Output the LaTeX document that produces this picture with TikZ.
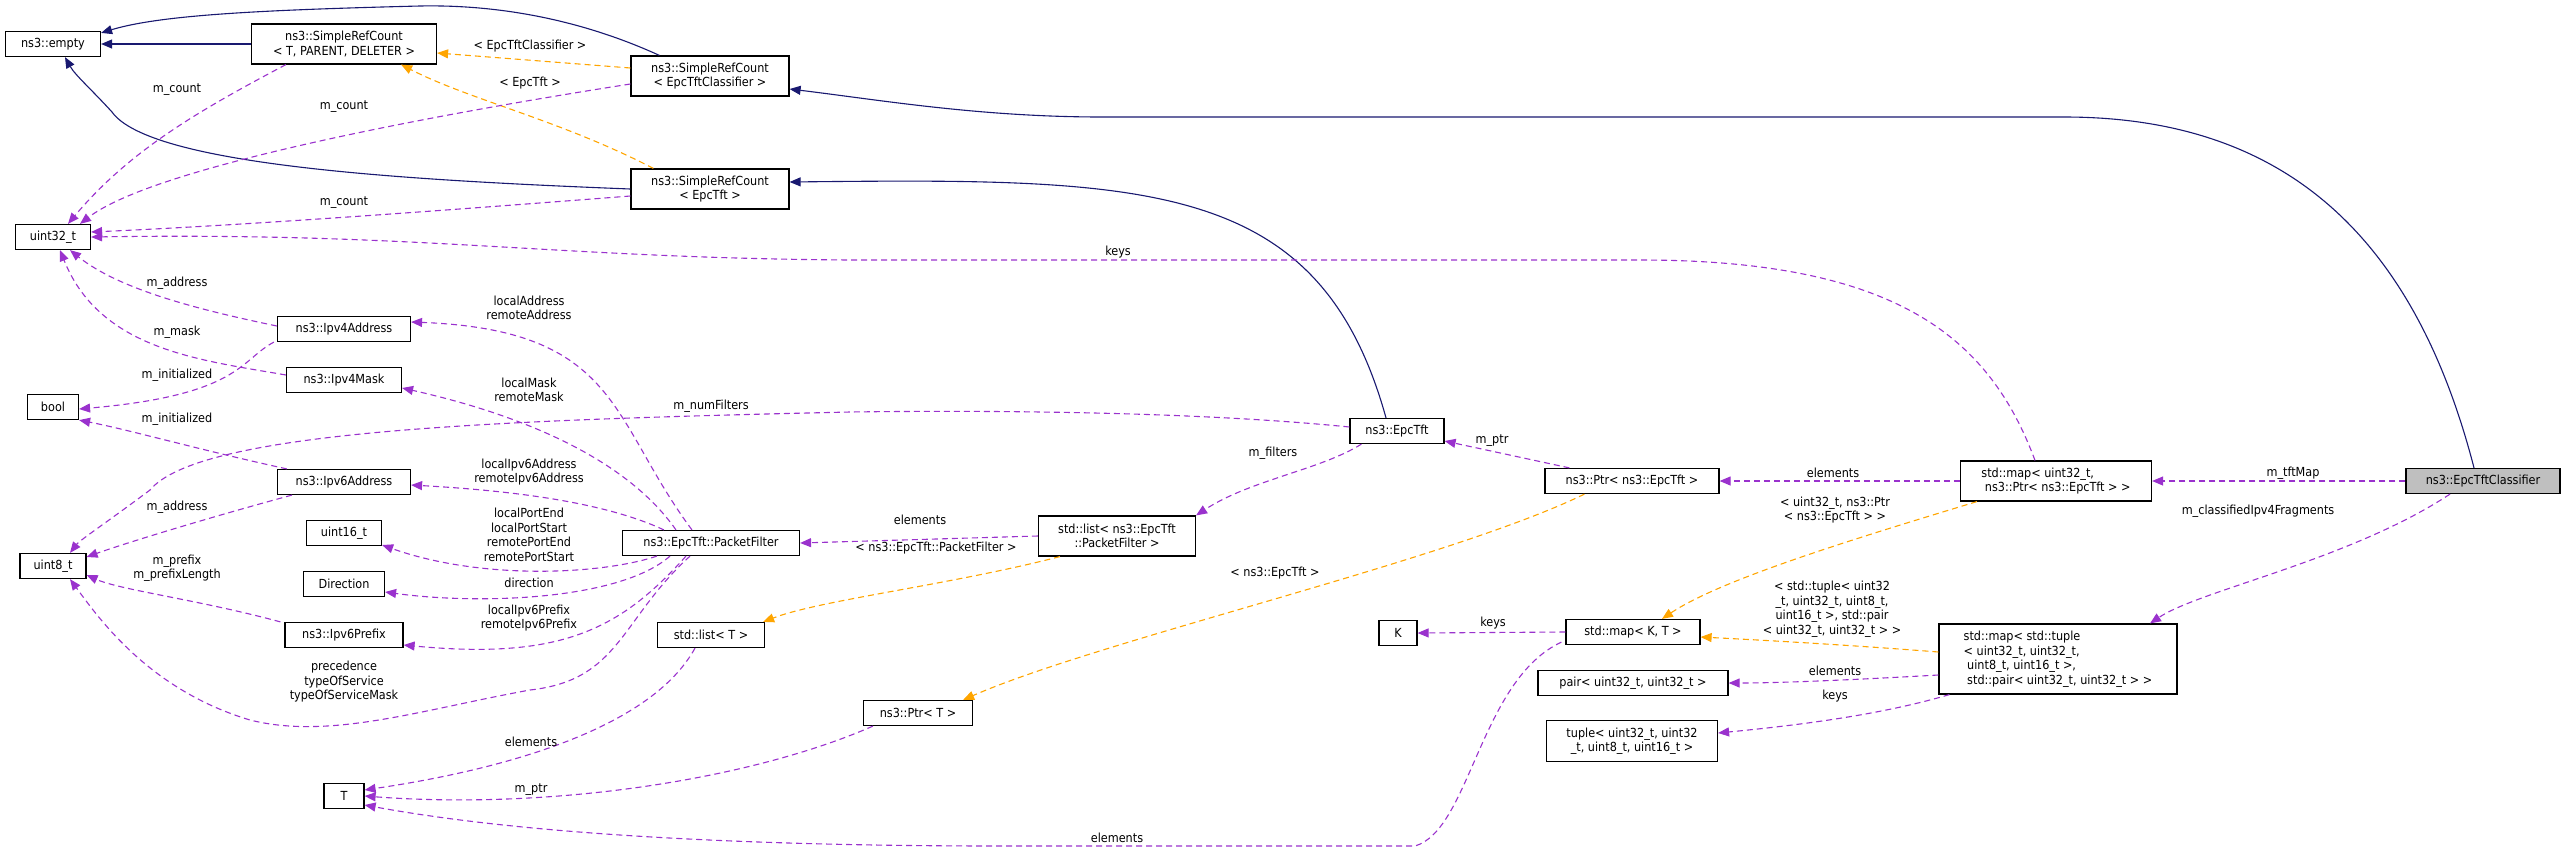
\documentclass[tikz,border=0pt]{standalone}
\usepackage{fontspec}
\setmainfont{DejaVu Sans Condensed}
\usetikzlibrary{arrows.meta,calc}
\definecolor{navy}{HTML}{191970}
\definecolor{purp}{HTML}{9A32CD}
\definecolor{orng}{HTML}{FFA500}
\begin{document}
\begin{tikzpicture}[x=1pt,y=-1pt,
  box/.style={draw=black,line width=1.2pt,fill=white,inner sep=0pt,font=\fontsize{12.5}{14.5}\selectfont,align=center},
  lbl/.style={font=\fontsize{12.5}{14.5}\selectfont,align=center,inner sep=0pt},
  tip/.style={-{Triangle[length=11pt,width=9pt]}},
  inh/.style={tip,draw=navy,line width=1.1pt},
  use/.style={tip,draw=purp,line width=1.1pt,dash pattern=on 6pt off 4pt},
  tpl/.style={tip,draw=orng,line width=1.1pt,dash pattern=on 6pt off 4pt}]
\useasboundingbox (0,0) rectangle (2565,852);
% nodes
\node[box,minimum width=95pt,minimum height=25pt] (empty) at (53,44) {ns3::empty};
\node[box,minimum width=185pt,minimum height=40pt] (srcT) at (344,44) {ns3::SimpleRefCount\\< T, PARENT, DELETER >};
\node[box,minimum width=158pt,minimum height=40pt] (srcC) at (710,76) {ns3::SimpleRefCount\\< EpcTftClassifier >};
\node[box,minimum width=158pt,minimum height=40pt] (srcE) at (710,189) {ns3::SimpleRefCount\\< EpcTft >};
\node[box,minimum width=75pt,minimum height=25pt] (u32) at (53,237) {uint32\_t};
\node[box,minimum width=133pt,minimum height=25pt] (ip4a) at (344,329) {ns3::Ipv4Address};
\node[box,minimum width=115pt,minimum height=25pt] (ip4m) at (344,380) {ns3::Ipv4Mask};
\node[box,minimum width=51pt,minimum height=25pt] (bool) at (53,407) {bool};
\node[box,minimum width=133pt,minimum height=25pt] (ip6a) at (344,482) {ns3::Ipv6Address};
\node[box,minimum width=66pt,minimum height=25pt] (u8) at (53,566) {uint8\_t};
\node[box,minimum width=75pt,minimum height=25pt] (u16) at (344,533) {uint16\_t};
\node[box,minimum width=81pt,minimum height=25pt] (dir) at (344,584) {Direction};
\node[box,minimum width=118pt,minimum height=25pt] (ip6p) at (344,635) {ns3::Ipv6Prefix};
\node[box,minimum width=177pt,minimum height=25pt] (pf) at (711,543) {ns3::EpcTft::PacketFilter};
\node[box,minimum width=107pt,minimum height=25pt] (listT) at (711,635) {std::list< T >};
\node[box,minimum width=40pt,minimum height=25pt] (T) at (344,796) {T};
\node[box,minimum width=109pt,minimum height=25pt] (ptrT) at (918,713) {ns3::Ptr< T >};
\node[box,minimum width=94pt,minimum height=25pt] (epctft) at (1397,431) {ns3::EpcTft};
\node[box,minimum width=157pt,minimum height=40pt] (listPF) at (1117,536) {std::list< ns3::EpcTft\\::PacketFilter >};
\node[box,minimum width=174pt,minimum height=25pt] (ptrE) at (1632,481) {ns3::Ptr< ns3::EpcTft >};
\node[box,minimum width=191pt,minimum height=40pt,align=left] (mapP) at (2056,481) {std::map< uint32\_t,\\\ ns3::Ptr< ns3::EpcTft > >};
\node[box,minimum width=154pt,minimum height=25pt,fill={rgb,255:red,191;green,191;blue,191}] (cls) at (2483,481) {ns3::EpcTftClassifier};
\node[box,minimum width=38pt,minimum height=25pt] (K) at (1398,633) {K};
\node[box,minimum width=134pt,minimum height=25pt] (mapKT) at (1633,632) {std::map< K, T >};
\node[box,minimum width=190pt,minimum height=25pt] (pair) at (1633,683) {pair< uint32\_t, uint32\_t >};
\node[box,minimum width=171pt,minimum height=41pt] (tuple) at (1632,741) {tuple< uint32\_t, uint32\\\_t, uint8\_t, uint16\_t >};
\node[box,minimum width=238pt,minimum height=70pt,align=left] (mapTu) at (2058,659) {std::map< std::tuple\\< uint32\_t, uint32\_t,\\\ uint8\_t, uint16\_t >,\\\ std::pair< uint32\_t, uint32\_t > >};
% inheritance
\draw[inh] (srcT.west) -- (empty.east);
\draw[inh] ($(srcC.north west)+(29,0)$) .. controls (560,10) and (470,5) .. (420,6) .. controls (260,10) and (160,15) .. ($(empty.north east)+(0,2)$);
\draw[inh] (srcE.west) .. controls (400,180) and (150,165) .. (112,112) .. controls (92,90) and (75,75) .. ($(empty.south)+(12,0)$);
\draw[inh] ($(cls.north)+(-9,0)$) .. controls (2410,220) and (2270,117) .. (2064,117) -- (1102,117) .. controls (980,117) and (880,100) .. ($(srcC.east)+(0,13)$);
\draw[inh] ($(epctft.north)+(-11,0)$) .. controls (1320,180) and (1150,178) .. ($(srcE.east)+(0,-7)$);
% template instances
\draw[tpl] ($(srcC.west)+(0,-8)$) -- ($(srcT.east)+(0,9)$);
\node[lbl] (l1) at (530,46) {< EpcTftClassifier >};
\draw[tpl] ($(srcE.north west)+(23,0)$) .. controls (560,120) and (470,100) .. ($(srcT.south east)+(-36,0)$);
\node[lbl] (l2) at (530,83) {< EpcTft >};
\draw[tpl] ($(listPF.south west)+(22,0)$) .. controls (950,585) and (820,600) .. ($(listT.north east)+(-2,0)$);
\node[lbl] (l3) at (936,548) {< ns3::EpcTft::PacketFilter >};
\draw[tpl] ($(ptrE.south west)+(40,0)$) .. controls (1450,560) and (1100,640) .. ($(ptrT.north east)+(-10,0)$);
\node[lbl] (l4) at (1275,573) {< ns3::EpcTft >};
\draw[tpl] ($(mapP.south west)+(17,0)$) .. controls (1850,540) and (1720,580) .. ($(mapKT.north)+(29,0)$);
\node[lbl] (l5) at (1835,510) {< uint32\_t, ns3::Ptr\\< ns3::EpcTft > >};
\draw[tpl] ($(mapTu.west)+(0,-7)$) .. controls (1850,645) and (1760,640) .. ($(mapKT.east)+(0,5)$);
\node[lbl] (l6) at (1832,609) {< std::tuple< uint32\\\_t, uint32\_t, uint8\_t,\\uint16\_t >, std::pair\\< uint32\_t, uint32\_t > >};
% usage
\draw[use] ($(srcT.south west)+(35,0)$) .. controls (200,110) and (130,150) .. ($(u32.north)+(15,0)$);
\node[lbl] (m1) at (177,90) {m\_count};
\draw[use] ($(srcC.west)+(0,8)$) .. controls (400,120) and (150,170) .. ($(u32.north)+(27,0)$);
\node[lbl] (m2) at (344,107) {m\_count};
\draw[use] ($(srcE.west)+(0,7)$) .. controls (450,210) and (250,225) .. ($(u32.east)+(0,-5)$);
\node[lbl] (m3) at (344,203) {m\_count};
\draw[use] ($(mapP.north)+(-21,0)$) .. controls (1990,340) and (1900,260) .. (1640,260) -- (850,260) .. controls (550,258) and (420,232) .. (u32.east);
\node[lbl] (m4) at (1118,252) {keys};
\draw[use] ($(ip4a.west)+(0,-3)$) .. controls (200,310) and (120,290) .. ($(u32.south)+(17,0)$);
\node[lbl] (m5) at (177,283) {m\_address};
\draw[use] ($(ip4m.west)+(0,-5)$) .. controls (200,360) and (100,350) .. ($(u32.south)+(7,0)$);
\node[lbl] (m6) at (177,332) {m\_mask};
\draw[use] ($(ip4a.south west)+(-3,0)$) .. controls (240,360) and (240,395) .. ($(bool.east)+(0,2)$);
\node[lbl] (m7) at (177,375) {m\_initialized};
\draw[use] ($(ip6a.north west)+(10,0)$) .. controls (200,450) and (130,430) .. (bool.south east);
\node[lbl] (m8) at (177,419) {m\_initialized};
\draw[use] ($(epctft.west)+(0,-4)$) .. controls (1200,412) and (1000,410) .. (850,412) .. controls (500,420) and (200,430) .. (150,490) .. controls (110,520) and (80,540) .. ($(u8.north)+(17,0)$);
\node[lbl] (m9) at (711,406) {m\_numFilters};
\draw[use] ($(ip6a.south west)+(15,0)$) .. controls (200,520) and (120,545) .. ($(u8.east)+(0,-9)$);
\node[lbl] (m10) at (177,507) {m\_address};
\draw[use] ($(ip6p.north west)+(-4,0)$) .. controls (200,600) and (120,590) .. ($(u8.east)+(0,9)$);
\node[lbl] (m11) at (177,568) {m\_prefix\\m\_prefixLength};
\draw[use] ($(pf.south)+(-21,0)$) .. controls (620,620) and (620,680) .. (530,690) .. controls (420,710) and (330,740) .. (250,720) .. controls (150,690) and (100,620) .. ($(u8.south)+(17,0)$);
\node[lbl] (m12) at (344,682) {precedence\\typeOfService\\typeOfServiceMask};
\draw[use] ($(pf.north)+(-19,0)$) .. controls (610,420) and (620,330) .. ($(ip4a.east)+(0,-7)$);
\node[lbl] (m13) at (529,308) {localAddress\\remoteAddress};
\draw[use] ($(pf.north)+(-35,0)$) .. controls (620,450) and (500,410) .. ($(ip4m.east)+(0,8)$);
\node[lbl] (m14) at (529,390) {localMask\\remoteMask};
\draw[use] ($(pf.north west)+(42,0)$) .. controls (600,500) and (500,490) .. ($(ip6a.east)+(0,3)$);
\node[lbl] (m15) at (529,472) {localIpv6Address\\remoteIpv6Address};
\draw[use] ($(pf.south west)+(35,0)$) .. controls (600,575) and (480,580) .. ($(u16.east)+(0,12)$);
\node[lbl] (m16) at (529,535) {localPortEnd\\localPortStart\\remotePortEnd\\remotePortStart};
\draw[use] ($(pf.south)+(-41,0)$) .. controls (620,600) and (480,605) .. ($(dir.east)+(0,8)$);
\node[lbl] (m17) at (529,583) {direction};
\draw[use] ($(pf.south)+(-25,0)$) .. controls (620,630) and (560,660) .. ($(ip6p.east)+(0,10)$);
\node[lbl] (m18) at (529,618) {localIpv6Prefix\\remoteIpv6Prefix};
\draw[use] (listPF.west) -- (pf.east);
\node[lbl] (m19) at (920,520) {elements};
\draw[use] ($(epctft.south west)+(12,0)$) .. controls (1320,470) and (1250,480) .. (listPF.north east);
\node[lbl] (m20) at (1273,453) {m\_filters};
\draw[use] ($(ptrE.north west)+(25,0)$) -- ($(epctft.east)+(0,10)$);
\node[lbl] (m21) at (1492,441) {m\_ptr};
\draw[use] (mapP.west) -- (ptrE.east);
\node[lbl] (m22) at (1833,473) {elements};
\draw[use] (cls.west) -- (mapP.east);
\node[lbl] (m23) at (2293,473) {m\_tftMap};
\draw[use] ($(cls.south)+(-33,0)$) .. controls (2350,560) and (2200,590) .. ($(mapTu.north)+(92,0)$);
\node[lbl] (m24) at (2258,511) {m\_classifiedIpv4Fragments};
\draw[use] ($(listT.south)+(-16,0)$) .. controls (650,730) and (500,770) .. ($(T.east)+(0,-6)$);
\node[lbl] (m25) at (531,742) {elements};
\draw[use] ($(ptrT.south west)+(10,0)$) .. controls (750,780) and (550,810) .. (T.east);
\node[lbl] (m26) at (531,790) {m\_ptr};
\draw[use] ($(mapKT.south west)+(-4,-3)$) .. controls (1480,680) and (1470,830) .. (1415,846) -- (1000,846) .. controls (700,846) and (500,830) .. ($(T.east)+(0,9)$);
\node[lbl] (m27) at (1117,838) {elements};
\draw[use] (mapKT.west) -- (K.east);
\node[lbl] (m28) at (1493,623) {keys};
\draw[use] ($(mapTu.west)+(0,16)$) .. controls (1850,680) and (1780,683) .. (pair.east);
\node[lbl] (m29) at (1835,671) {elements};
\draw[use] ($(mapTu.south west)+(11,0)$) .. controls (1880,715) and (1800,725) .. ($(tuple.east)+(0,-8)$);
\node[lbl] (m30) at (1835,696) {keys};
\end{tikzpicture}
\end{document}
